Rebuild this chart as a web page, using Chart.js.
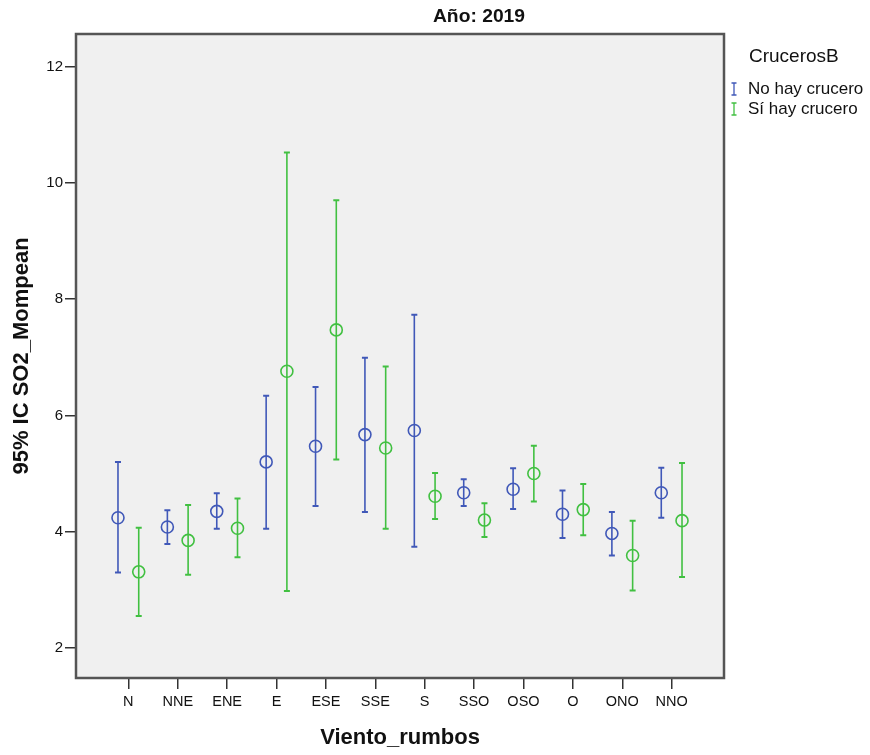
<!DOCTYPE html>
<html>
<head>
<meta charset="utf-8">
<script src="https://cdn.jsdelivr.net/npm/chart.js@4/dist/chart.umd.min.js"></script>
<style>
  html, body { margin: 0; padding: 0; background: #fff; }
</style>
</head>
<body>
<canvas id="errorChart" width="870" height="755"></canvas>
<script>
// categorias del eje X (rumbos del viento)
const rumbos = ['N', 'NNE', 'ENE', 'E', 'ESE', 'SSE', 'S', 'SSO', 'OSO', 'O', 'ONO', 'NNO'];

// No hay crucero: media e IC 95%
const noMedia = [4.24, 4.08, 4.35, 5.20, 5.47, 5.67, 5.74, 4.67, 4.73, 4.30, 3.97, 4.67];
const noInf   = [3.30, 3.79, 4.05, 4.05, 4.44, 4.34, 3.74, 4.44, 4.39, 3.89, 3.59, 4.24];
const noSup   = [5.20, 4.37, 4.66, 6.34, 6.49, 6.99, 7.73, 4.90, 5.09, 4.71, 4.34, 5.10];

// Si hay crucero: media e IC 95%
const siMedia = [3.31, 3.85, 4.06, 6.76, 7.47, 5.44, 4.61, 4.20, 5.00, 4.38, 3.59, 4.19];
const siInf   = [2.55, 3.26, 3.56, 2.98, 5.24, 4.05, 4.22, 3.91, 4.52, 3.94, 2.99, 3.22];
const siSup   = [4.07, 4.46, 4.57, 10.52, 9.70, 6.84, 5.01, 4.49, 5.48, 4.82, 4.19, 5.18];

const yTicks = [2, 4, 6, 8, 10, 12];

const azul = '#4058b8';
const verde = '#41c041';
const fuente = "'Liberation Sans', Arial, sans-serif";

// SPSS usa letra estrecha en ejes y titulo; si no esta instalada, se usa la normal mas pequena
const prueba = document.createElement('canvas').getContext('2d');
prueba.font = "20px 'Liberation Sans Narrow', monospace";
const anchoNarrow = prueba.measureText('NNE ONO').width;
prueba.font = "20px monospace";
const hayNarrow = Math.abs(anchoNarrow - prueba.measureText('NNE ONO').width) > 0.5;
const estrecha = hayNarrow ? "'Liberation Sans Narrow', " + fuente : fuente;
const k = hayNarrow ? 1 : 0.82;

const puntos = (medias, desp) => medias.map((m, i) => ({ x: i + desp, y: m }));

// fondo gris, marco, barras de error y leyenda
const errorBars = {
    id: 'errorBars',
    beforeDraw(chart) {
        const a = chart.chartArea;
        const ctx = chart.ctx;
        ctx.save();
        ctx.fillStyle = '#f0f0f0';
        ctx.fillRect(a.left, a.top, a.right - a.left, a.bottom - a.top);
        ctx.restore();
    },
    beforeDatasetsDraw(chart) {
        const ctx = chart.ctx;
        const xs = chart.scales.x, ys = chart.scales.y;
        ctx.save();
        chart.data.datasets.forEach(ds => {
            ctx.strokeStyle = ds.borderColor;
            ds.data.forEach((p, i) => {
                const px = xs.getPixelForValue(p.x);
                const top = ys.getPixelForValue(ds.sup[i]);
                const bot = ys.getPixelForValue(ds.inf[i]);
                ctx.lineWidth = 1.6;
                ctx.beginPath();
                ctx.moveTo(px, top);
                ctx.lineTo(px, bot);
                ctx.stroke();
                ctx.lineWidth = 2;
                ctx.beginPath();
                ctx.moveTo(px - 3, top); ctx.lineTo(px + 3, top);
                ctx.moveTo(px - 3, bot); ctx.lineTo(px + 3, bot);
                ctx.stroke();
            });
        });
        ctx.restore();
    },
    afterDraw(chart) {
        const a = chart.chartArea;
        const ctx = chart.ctx;
        ctx.save();
        ctx.strokeStyle = '#555';
        ctx.lineWidth = 2.5;
        ctx.strokeRect(a.left, a.top, a.right - a.left, a.bottom - a.top);

        // titulo
        ctx.fillStyle = '#111';
        ctx.font = "bold " + (23.5 * k) + "px " + estrecha;
        ctx.textAlign = 'center';
        ctx.textBaseline = 'middle';
        ctx.fillText('Año: 2019', 479, 17);

        // leyenda
        ctx.textAlign = 'left';
        ctx.font = "19px " + fuente;
        ctx.fillText('CrucerosB', 749, 57);
        ctx.font = "17px " + fuente;
        chart.data.datasets.forEach((ds, n) => {
            const y = 89 + n * 20;
            ctx.strokeStyle = ds.borderColor;
            ctx.lineWidth = 1.3;
            ctx.beginPath();
            ctx.moveTo(734, y - 6); ctx.lineTo(734, y + 6);
            ctx.moveTo(731.5, y - 6); ctx.lineTo(736.5, y - 6);
            ctx.moveTo(731.5, y + 6); ctx.lineTo(736.5, y + 6);
            ctx.stroke();
            ctx.fillStyle = '#111';
            ctx.fillText(ds.label, 748, y);
        });
        ctx.restore();
    }
};

new Chart(document.getElementById('errorChart'), {
    type: 'scatter',
    data: {
        datasets: [{
            label: 'No hay crucero',
            data: puntos(noMedia, -0.21),
            inf: noInf,
            sup: noSup,
            borderColor: azul,
            backgroundColor: 'rgba(0,0,0,0)',
            pointRadius: 6,
            pointBorderWidth: 1.6
        }, {
            label: 'Sí hay crucero',
            data: puntos(siMedia, 0.21),
            inf: siInf,
            sup: siSup,
            borderColor: verde,
            backgroundColor: 'rgba(0,0,0,0)',
            pointRadius: 6,
            pointBorderWidth: 1.6
        }]
    },
    options: {
        responsive: false,
        animation: false,
        layout: { padding: { left: 0, right: 146, top: 34, bottom: 0 } },
        plugins: {
            legend: { display: false },
            title: { display: false },
            tooltip: { enabled: false }
        },
        scales: {
            x: {
                type: 'linear',
                min: -1.06,
                max: 12.06,
                afterFit: s => { s.height = 77; },
                afterBuildTicks: s => { s.ticks = rumbos.map((r, i) => ({ value: i })); },
                ticks: {
                    autoSkip: false,
                    maxRotation: 0,
                    padding: hayNarrow ? 3 : 4,
                    color: '#111',
                    font: { family: estrecha, size: 17.7 * k },
                    callback: v => rumbos[v]
                },
                grid: { drawOnChartArea: false, tickLength: 11, color: '#333', lineWidth: 1.5 },
                border: { display: false },
                title: {
                    display: true,
                    text: 'Viento_rumbos',
                    color: '#111',
                    font: { family: fuente, size: 22, weight: 'bold' },
                    padding: { top: 0, bottom: 4 }
                }
            },
            y: {
                min: 1.484,
                max: 12.559,
                afterFit: s => { s.width = 76; },
                afterBuildTicks: s => { s.ticks = yTicks.map(v => ({ value: v })); },
                ticks: {
                    padding: 2,
                    color: '#111',
                    font: { family: estrecha, size: 18.3 * k }
                },
                grid: { drawOnChartArea: false, tickLength: 11, color: '#333', lineWidth: 1.5 },
                border: { display: false },
                title: {
                    display: true,
                    text: '95% IC SO2_Mompean',
                    color: '#111',
                    font: { family: fuente, size: 22, weight: 'bold' },
                    padding: { top: 9, bottom: 0 }
                }
            }
        }
    },
    plugins: [errorBars]
});
</script>
</body>
</html>
